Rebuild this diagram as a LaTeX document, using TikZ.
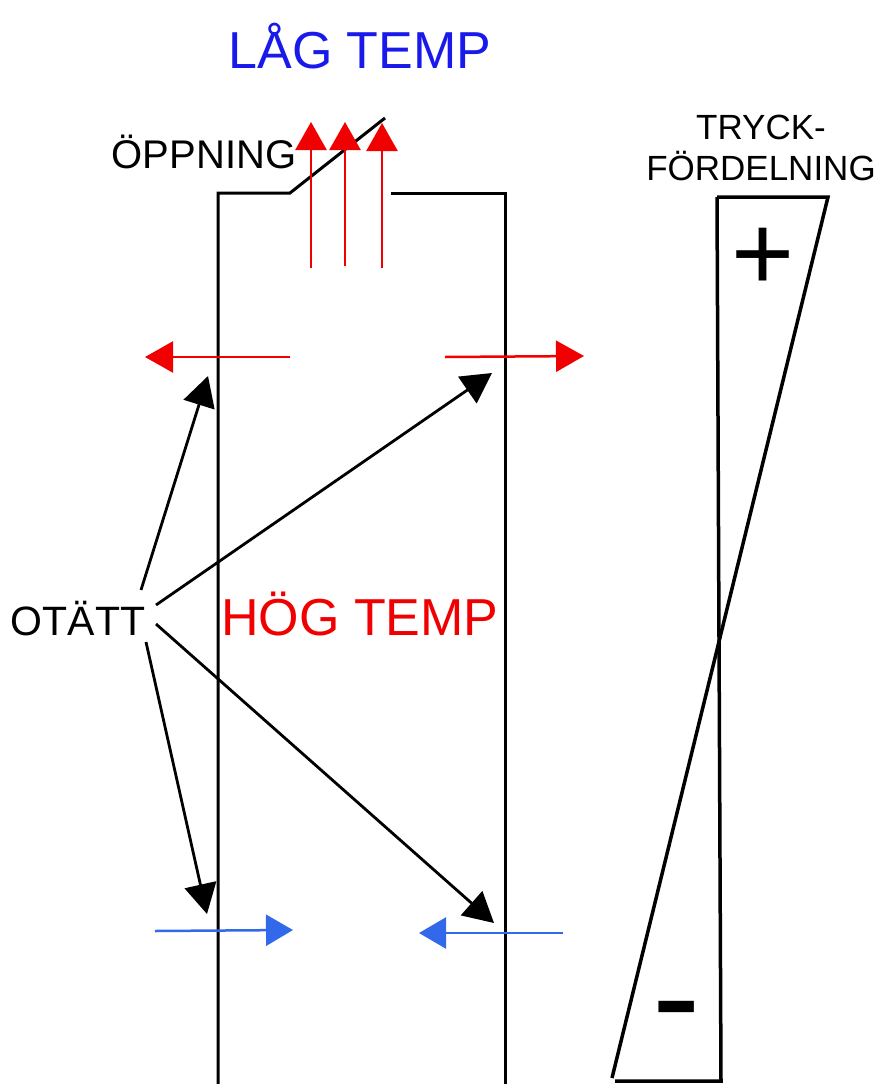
\documentclass[tikz,border=0pt]{standalone}
\usepackage{fontspec}
\setmainfont{Liberation Sans}
\usetikzlibrary{arrows.meta}
\definecolor{lagblue}{RGB}{25,25,235}
\definecolor{flowblue}{RGB}{50,105,235}
\definecolor{hotred}{RGB}{240,0,0}
\begin{document}
\begin{tikzpicture}[x=1pt,y=-1pt,
  wall/.style={line width=3pt, line cap=butt},
  redarrow/.style={hotred, line width=2.5pt, -{Triangle[length=28pt,width=31pt]}},
  bluearrow/.style={flowblue, line width=2.5pt, -{Triangle[length=27pt,width=31pt]}},
  leakarrow/.style={black, line width=2.8pt, -{Triangle[length=30pt,width=32pt]}},
  lbl/.style={inner sep=0pt, anchor=base}]
\useasboundingbox (0,0) rectangle (878,1084);
% texts
\node[lbl, lagblue, font=\fontsize{52}{60}\selectfont] (lag) at (360,68) {LÅG TEMP};
\node[lbl, hotred, font=\fontsize{52}{60}\selectfont] (hog) at (360,635) {HÖG TEMP};
\node[lbl, font=\fontsize{40}{46}\selectfont] (oppning) at (204,168) {ÖPPNING};
\node[lbl, font=\fontsize{41}{46}\selectfont] (otatt) at (78,635) {OTÄTT};
\node[lbl, font=\fontsize{35}{41}\selectfont] (tryck) at (761,139) {TRYCK-};
\node[lbl, font=\fontsize{35}{41}\selectfont] (fordel) at (761,180) {FÖRDELNING};
% building walls
\coordinate (tl) at (218,193);
\coordinate (tr) at (505,193);
\coordinate (bl) at (218,1084);
\coordinate (br) at (505,1084);
\coordinate (hinge) at (290,193);
\coordinate (flap) at (385,118);
\coordinate (gap) at (391,193);
\draw[wall] (bl) -- (tl) -- (hinge) -- (flap);
\draw[wall] (gap) -- (tr) -- (br);
% upward red arrows through opening
\coordinate (u1s) at (311,268); \coordinate (u1e) at (311,122);
\coordinate (u2s) at (345,266); \coordinate (u2e) at (345,122);
\coordinate (u3s) at (382,268); \coordinate (u3e) at (382,123);
\draw[redarrow] (u1s) -- (u1e);
\draw[redarrow] (u2s) -- (u2e);
\draw[redarrow] (u3s) -- (u3e);
% red outflow arrows
\coordinate (rl1) at (290,357); \coordinate (rl2) at (145,357);
\coordinate (rr1) at (445,357); \coordinate (rr2) at (584,356);
\draw[redarrow] (rl1) -- (rl2);
\draw[redarrow] (rr1) -- (rr2);
% blue inflow arrows
\coordinate (bl1) at (155,931); \coordinate (bl2) at (293,930);
\coordinate (br1) at (563,933); \coordinate (br2) at (419,933);
\draw[bluearrow] (bl1) -- (bl2);
\draw[bluearrow] (br1) -- (br2);
% leak pointers
\coordinate (s1) at (141,590); \coordinate (e1) at (208,376);
\coordinate (s2) at (156,605); \coordinate (e2) at (492,373);
\coordinate (s3) at (156,624); \coordinate (e3) at (494,923);
\coordinate (s4) at (146,642); \coordinate (e4) at (207,914);
\draw[leakarrow] (s1) -- (e1);
\draw[leakarrow] (s2) -- (e2);
\draw[leakarrow] (s3) -- (e3);
\draw[leakarrow] (s4) -- (e4);
% pressure distribution
\coordinate (p1) at (717,197);
\coordinate (p2) at (828,197);
\coordinate (p3) at (612,1078);
\coordinate (p4) at (721,1081);
\coordinate (p5) at (615,1081);
\draw[wall, line width=3.5pt] (p1) -- (p2) -- (p3);
\draw[wall, line width=3.5pt] (p1) -- (p4) -- (p5);
\node[inner sep=0pt, font=\fontsize{108}{112}\selectfont] (plus) at (763,259) {+};
\node[inner sep=0pt, font=\fontsize{145}{150}\selectfont] (minus) at (677,1023) {-};
\end{tikzpicture}
\end{document}
